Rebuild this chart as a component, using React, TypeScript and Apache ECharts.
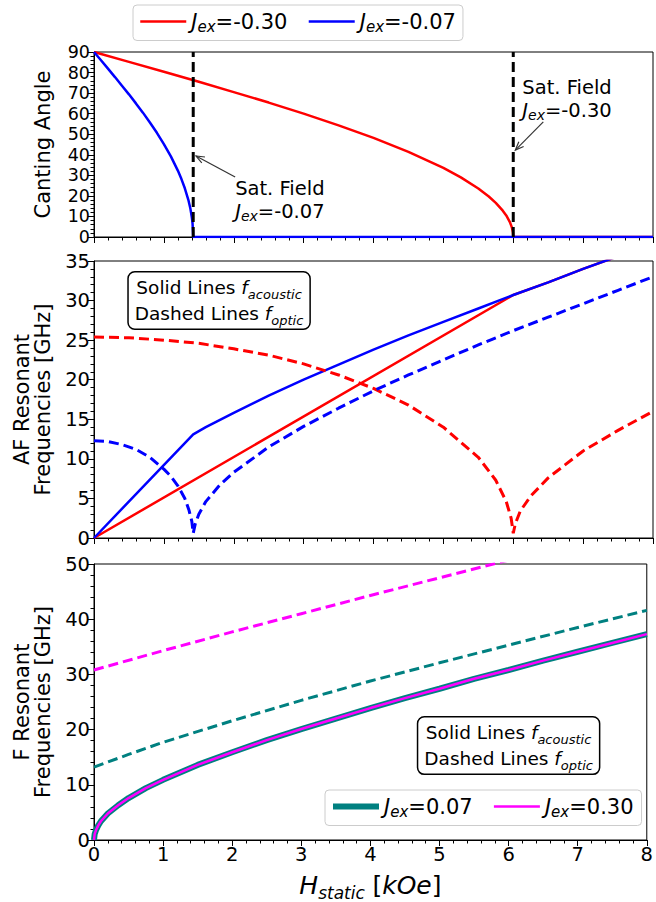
import React, { useEffect, useRef } from "react";
import * as echarts from "echarts";

const FONT = "DejaVu Sans";

// Field axis (kOe)
const fieldMin = 0;
const fieldMax = 8;

// Saturation fields (kOe) for J_ex = -0.07 and J_ex = -0.30
const satFieldBlue = 1.42;
const satFieldRed = 6.0;

// Canting angle (deg) vs H_static (kOe)
const cantRed: number[][] = [
  [0, 90], [0.5, 85.2], [1, 80.4], [1.5, 75.5], [2, 70.5], [2.5, 65.4], [3, 60], [3.5, 54.3],
  [4, 48.2], [4.5, 41.4], [5, 33.6], [5.25, 29.0], [5.5, 23.6], [5.65, 19.7], [5.75, 16.6],
  [5.85, 12.8], [5.9, 10.5], [5.95, 7.4], [5.98, 4.7], [5.995, 2.3], [6, 0], [8, 0],
];
const cantBlue: number[][] = [
  [0, 90], [0.1, 86], [0.2, 81.9], [0.3, 77.8], [0.4, 73.6], [0.5, 69.4], [0.6, 65], [0.7, 60.5],
  [0.8, 55.7], [0.9, 50.7], [1, 45.2], [1.1, 39.2], [1.2, 32.3], [1.25, 28.3], [1.3, 23.7],
  [1.35, 18.1], [1.38, 13.7], [1.4, 9.6], [1.41, 6.8], [1.42, 0], [8, 0],
];

// AF resonant frequencies (GHz): acoustic (solid) and optic (dashed)
const afAcousticRed: number[][] = [
  [0, 0], [6, 30.7], [6.5, 32.3], [7, 34], [7.5, 35.6], [8, 37.2],
];
const afAcousticBlue: number[][] = [
  [0, 0], [1.42, 13.1], [1.6, 14], [2, 15.8], [2.5, 18], [3, 20], [3.5, 21.9], [4, 23.8],
  [4.5, 25.6], [5, 27.3], [5.5, 29], [6, 30.7], [6.5, 32.3], [7, 34], [7.5, 35.6], [8, 37.2],
];
const afOpticRed: number[][] = [
  [0, 25.4], [0.5, 25.3], [1, 25], [1.5, 24.6], [2, 23.9], [2.5, 23.1], [3, 22], [3.5, 20.6],
  [4, 18.9], [4.5, 16.8], [5, 14], [5.5, 10.2], [5.75, 7.3], [5.9, 4.6], [5.97, 2.5], [6, 0.6],
  [6.03, 1.8], [6.1, 3.4], [6.25, 5.3], [6.5, 7.6], [7, 11], [7.5, 13.6], [8, 16],
];
const afOpticBlue: number[][] = [
  [0, 12.3], [0.2, 12.2], [0.4, 11.8], [0.6, 11.2], [0.8, 10.2], [1, 8.7], [1.1, 7.8], [1.2, 6.6],
  [1.3, 5], [1.36, 3.5], [1.4, 2.1], [1.42, 0.6], [1.45, 1.8], [1.5, 3], [1.6, 4.6], [1.8, 6.7],
  [2, 8.3], [2.5, 11.5], [3, 14.1], [3.5, 16.4], [4, 18.6], [4.5, 20.6], [5, 22.5], [5.5, 24.4],
  [6, 26.2], [6.5, 27.9], [7, 29.6], [7.5, 31.3], [8, 33],
];

// F resonant frequencies (GHz)
const fAcousticTeal: number[][] = [
  [0, 0], [0.01, 1.1], [0.03, 1.8], [0.06, 2.6], [0.1, 3.4], [0.2, 4.8], [0.35, 6.3], [0.5, 7.6],
  [0.75, 9.4], [1, 10.9], [1.5, 13.6], [2, 15.9], [2.5, 18.1], [3, 20.1], [3.5, 22], [4, 23.9],
  [4.5, 25.7], [5, 27.4], [5.5, 29.2], [6, 30.8], [6.5, 32.5], [7, 34.1], [7.5, 35.7], [8, 37.3],
];
const fAcousticMagenta: number[][] = [
  [0, 0], [0.01, 1.1], [0.03, 1.8], [0.06, 2.6], [0.1, 3.4], [0.2, 4.8], [0.35, 6.3], [0.5, 7.6],
  [0.75, 9.4], [1, 10.9], [1.5, 13.6], [2, 15.9], [2.5, 18.1], [3, 20.1], [3.5, 22], [4, 23.9],
  [4.5, 25.7], [5, 27.4], [5.5, 29.2], [6, 30.8], [6.5, 32.5], [7, 34.1], [7.5, 35.7], [8, 37.3],
];
const fOpticTeal: number[][] = [
  [0, 13.2], [0.5, 15.5], [1, 17.7], [2, 21.6], [3, 25.3], [4, 28.8], [5, 32.1], [6, 35.3],
  [7, 38.5], [8, 41.6],
];
const fOpticMagenta: number[][] = [
  [0, 30.8], [1, 34.3], [2, 37.7], [3, 41], [4, 44.3], [5, 47.5], [6, 50.7],
];

// Legend labels
const legendTopNames = ["Jex=-0.30", "Jex=-0.07"];
const legendBottomNames = ["Jex=0.07", "Jex=0.30"];

const RED = "#ff0000";
const BLUE = "#0000ff";
const TEAL = "#008080";
const MAGENTA = "#ff00ff";

const subRich = (size: number, sub: number, lh: number) => ({
  j: { fontFamily: FONT, fontStyle: "italic", fontSize: size, lineHeight: lh, color: "#000" },
  s: { fontFamily: FONT, fontStyle: "italic", fontSize: sub, verticalAlign: "bottom", color: "#000" },
  n: { fontFamily: FONT, fontSize: size, lineHeight: lh, color: "#000" },
});

const jexLabel = (name: string) => `{j|J}{s|ex}{n|${name.replace("Jex", "")}}`;

export default function App() {
  const ref = useRef<HTMLDivElement>(null);

  useEffect(() => {
    const chart = echarts.init(ref.current!, null, { renderer: "svg" });

    const grids = [
      { left: 94, width: 559, top: 52, height: 185 },
      { left: 94, width: 559, top: 261, height: 277 },
      { left: 94, width: 559, top: 564, height: 276 },
    ].map((g) => ({ ...g, show: true, borderColor: "#000", borderWidth: 1, backgroundColor: "transparent" }));

    const tickText = { fontSize: 19.5, lineHeight: 18, color: "#000", fontFamily: FONT };

    const xAxes = [0, 1, 2].map((i) => ({
      type: "value",
      gridIndex: i,
      min: fieldMin,
      max: fieldMax,
      interval: 1,
      axisLine: { show: true, onZero: false, lineStyle: { color: "#000", width: 1 } },
      axisTick: { show: true, length: 6, lineStyle: { color: "#000", width: 1 } },
      minorTick: { show: true, splitNumber: 5, length: 3.5, lineStyle: { color: "#000", width: 1 } },
      splitLine: { show: false },
      axisLabel: { show: i === 2, margin: 5, ...tickText },
      name: i === 2 ? "{h|H}{s|static} {n|[}{h|kOe}{n|]}" : "",
      nameLocation: "middle",
      nameGap: 29,
      nameTextStyle: {
        fontFamily: FONT,
        fontSize: 24,
        color: "#000",
        rich: {
          h: { fontFamily: FONT, fontStyle: "italic", fontSize: 25, lineHeight: 32, color: "#000" },
          s: { fontFamily: FONT, fontStyle: "italic", fontSize: 17, verticalAlign: "bottom", color: "#000" },
          n: { fontFamily: FONT, fontSize: 25, lineHeight: 32, color: "#000" },
        },
      },
    }));

    const yDefs = [
      { min: 0, max: 90, interval: 10, name: "Canting Angle", labelSize: 17.5 },
      { min: 0, max: 35, interval: 5, name: "AF Resonant\nFrequencies [GHz]", labelSize: 19.5 },
      { min: 0, max: 50, interval: 10, name: "F Resonant\nFrequencies [GHz]", labelSize: 19.5 },
    ];
    const yAxes = yDefs.map((d, i) => ({
      type: "value",
      gridIndex: i,
      min: d.min,
      max: d.max,
      interval: d.interval,
      axisLine: { show: true, onZero: false, lineStyle: { color: "#000", width: 1 } },
      axisTick: { show: true, length: 6, lineStyle: { color: "#000", width: 1 } },
      minorTick: { show: true, splitNumber: 5, length: 3.5, lineStyle: { color: "#000", width: 1 } },
      splitLine: { show: false },
      axisLabel: { show: true, margin: 4, ...tickText, fontSize: d.labelSize },
      name: d.name,
      nameLocation: "middle",
      nameRotate: 90,
      nameGap: 41,
      nameTextStyle: { fontFamily: FONT, fontSize: 21, color: "#000", lineHeight: 21 },
    }));

    const line = (name: string, data: number[][], grid: number, color: string, width: number, dashed: boolean, z = 2) => ({
      type: "line",
      name,
      data,
      xAxisIndex: grid,
      yAxisIndex: grid,
      showSymbol: false,
      symbol: "none",
      clip: true,
      z,
      lineStyle: { color, width, type: dashed ? [10, 5] : "solid", cap: "butt" },
      itemStyle: { color },
    });

    const series = [
      // canting angle
      line("Jex=-0.30", cantRed, 0, RED, 2.5, false),
      line("Jex=-0.07", cantBlue, 0, BLUE, 2.5, false),
      line("sat-blue", [[satFieldBlue, 0], [satFieldBlue, 90]], 0, "#000", 3, true, 3),
      line("sat-red", [[satFieldRed, 0], [satFieldRed, 90]], 0, "#000", 3, true, 3),
      // AF frequencies
      line("af-ac-red", afAcousticRed, 1, RED, 2.5, false),
      line("af-ac-blue", afAcousticBlue, 1, BLUE, 2.5, false),
      line("af-op-red", afOpticRed, 1, RED, 3, true),
      line("af-op-blue", afOpticBlue, 1, BLUE, 3, true),
      // F frequencies
      line("Jex=0.07", fAcousticTeal, 2, TEAL, 6, false),
      line("Jex=0.30", fAcousticMagenta, 2, MAGENTA, 2.5, false, 3),
      line("f-op-teal", fOpticTeal, 2, TEAL, 3, true),
      line("f-op-magenta", fOpticMagenta, 2, MAGENTA, 3, true),
    ];

    const legendBase = {
      orient: "horizontal",
      itemWidth: 46,
      itemHeight: 14,
      itemGap: 20,
      borderColor: "#cccccc",
      borderWidth: 1,
      borderRadius: 4,
      backgroundColor: "rgba(255,255,255,0.85)",
      itemStyle: { opacity: 0 },
      formatter: jexLabel,
      textStyle: { fontFamily: FONT, fontSize: 21, color: "#000", rich: subRich(21, 15, 26) },
      selectedMode: false,
    };

    chart.setOption({
      animation: false,
      backgroundColor: "#fff",
      grid: grids,
      xAxis: xAxes,
      yAxis: yAxes,
      legend: [
        {
          ...legendBase,
          data: [
            { name: legendTopNames[0], lineStyle: { width: 2.5 } },
            { name: legendTopNames[1], lineStyle: { width: 2.5 } },
          ],
          left: 133,
          top: 5,
          padding: [6, 7, 6, 6],
        },
        {
          ...legendBase,
          data: [
            { name: legendBottomNames[0], lineStyle: { width: 6 } },
            { name: legendBottomNames[1], lineStyle: { width: 2.5 } },
          ],
          left: 325,
          top: 790,
          padding: [6, 8, 6, 5],
        },
      ],
      series,
    });

    // Annotations placed in data coordinates of the canting-angle panel
    const toPx = (grid: number, p: number[]) => chart.convertToPixel({ gridIndex: grid } as any, p) as number[];

    const arrow = (tailData: number[], tipData: number[]) => {
      const tail = toPx(0, tailData);
      const tip = toPx(0, tipData);
      const dx = tail[0] - tip[0];
      const dy = tail[1] - tip[1];
      const len = Math.hypot(dx, dy);
      const ux = dx / len;
      const uy = dy / len;
      const head = 9;
      const ang = (22 * Math.PI) / 180;
      const rot = (a: number) => [
        tip[0] + head * (ux * Math.cos(a) - uy * Math.sin(a)),
        tip[1] + head * (ux * Math.sin(a) + uy * Math.cos(a)),
      ];
      const style = { stroke: "#333", lineWidth: 1.2, fill: null };
      return [
        { type: "line", shape: { x1: tail[0], y1: tail[1], x2: tip[0], y2: tip[1] }, style, z: 10 },
        { type: "polyline", shape: { points: [rot(ang), tip, rot(-ang)] }, style, z: 10 },
      ];
    };

    const annoRich = subRich(19.5, 14, 23);
    const annoText = (grid: number, at: number[], text: string) => {
      const p = toPx(grid, at);
      return {
        type: "text",
        x: p[0],
        y: p[1],
        z: 10,
        style: {
          text,
          fontFamily: FONT,
          fontSize: 19.5,
          lineHeight: 23,
          fill: "#000",
          align: "left",
          verticalAlign: "top",
          rich: annoRich,
        },
      };
    };

    const boxRich = {
      f: { fontFamily: FONT, fontStyle: "italic", fontSize: 18.5, lineHeight: 26, color: "#000" },
      s: { fontFamily: FONT, fontStyle: "italic", fontSize: 13, verticalAlign: "bottom", color: "#000" },
    };
    const boxText = (grid: number, at: number[]) => {
      const p = toPx(grid, at);
      return {
        type: "text",
        x: p[0],
        y: p[1],
        z: 10,
        style: {
          text: "Solid Lines {f|f}{s|acoustic}\nDashed Lines {f|f}{s|optic}",
          fontFamily: FONT,
          fontSize: 18.5,
          lineHeight: 26,
          fill: "#000",
          align: "center",
          verticalAlign: "middle",
          backgroundColor: "#fff",
          borderColor: "#000",
          borderWidth: 1.5,
          borderRadius: 6,
          padding: [2, 6, 2, 6],
          rich: boxRich,
        },
      };
    };

    chart.setOption({
      graphic: [
        ...arrow([2.02, 29.2], [1.46, 39.4]),
        ...arrow([6.43, 56], [6.03, 42.3]),
        annoText(0, [2.02, 29.2], "Sat. Field\n{j|J}{s|ex}{n|=-0.07}"),
        annoText(0, [6.13, 78.5], "Sat. Field\n{j|J}{s|ex}{n|=-0.30}"),
        boxText(1, [1.79, 30.0]),
        boxText(2, [6.0, 17.1]),
      ],
    });

    return () => chart.dispose();
  }, []);

  return <div ref={ref} style={{ position: "absolute", left: 0, top: 0, width: 656, height: 902 }} />;
}
